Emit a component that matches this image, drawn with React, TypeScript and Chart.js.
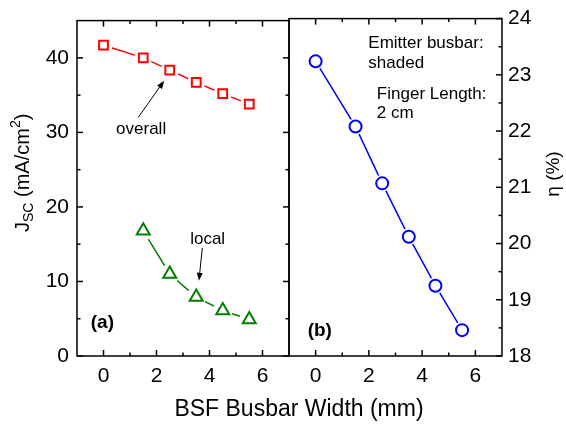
import React, { useEffect, useRef } from 'react';
import { Chart, registerables } from 'chart.js';
Chart.register(...registerables);

const FONT = '"Liberation Sans", Arial, Helvetica, sans-serif';

// ---- data ----
const widthsOverall = [0, 1.5, 2.5, 3.5, 4.5, 5.5];
const jscOverall = [41.7, 40.0, 38.35, 36.7, 35.2, 33.8];
const widthsLocal = [1.5, 2.5, 3.5, 4.5, 5.5];
const jscLocal = [16.8, 11.0, 7.9, 6.1, 4.9];
const widthsEta = [0, 1.5, 2.5, 3.5, 4.5, 5.5];
const etaValues = [23.24, 22.08, 21.07, 20.12, 19.25, 18.46];

// ---- ticks ----
const xTickLabels = [0, 2, 4, 6];
const xMinorTicks = [1, 3, 5];
const jscTickLabels = [0, 10, 20, 30, 40];
const jscMinorTicks = [5, 15, 25, 35];
const etaTickLabels = [18, 19, 20, 21, 22, 23, 24];
const etaMinorTicks = [18.5, 19.5, 20.5, 21.5, 22.5, 23.5];

// ---- annotations (data coordinates) ----
const notesA = [
  { text: 'overall', x: 1.42, y: 29.8 },
  { text: 'local', x: 3.93, y: 15.0 },
];
const arrowsA = [
  { from: [1.31, 32.0], to: [2.29, 36.94] },
  { from: [3.73, 14.5], to: [3.6, 10.09] },
];
const notesB = [
  { text: 'Emitter busbar:', x: 1.98, y: 23.47 },
  { text: 'shaded', x: 1.98, y: 23.12 },
  { text: 'Finger Length:', x: 2.3, y: 22.57 },
  { text: '2 cm', x: 2.3, y: 22.235 },
];

const pts = (xs: number[], ys: number[]) => xs.map((x, i) => ({ x, y: ys[i] }));

function series(data: any[], color: string, style: string, radius: number, halo: number) {
  return [
    { data, showLine: true, borderColor: color, borderWidth: 1.5, pointRadius: 0, order: 3 },
    {
      data, showLine: false, pointRadius: halo, pointStyle: 'circle',
      pointBackgroundColor: '#ffffff', pointBorderWidth: 0, pointBorderColor: '#ffffff', order: 2,
    },
    {
      data, showLine: false, pointRadius: radius, pointStyle: style,
      pointBackgroundColor: '#ffffff', pointBorderColor: color, pointBorderWidth: 2, order: 1,
    },
  ];
}

const MAJ = 6;
const MIN = 3.5;

function drawTicks(chart: any, sides: { left: boolean; right: boolean }, yMajor: number[], yMinor: number[]) {
  const { ctx, chartArea, scales } = chart;
  const { left, right, top, bottom } = chartArea;
  ctx.save();
  ctx.strokeStyle = '#000';
  ctx.lineWidth = 1.5;
  ctx.strokeRect(left, top, right - left, bottom - top);
  const seg = (x1: number, y1: number, x2: number, y2: number) => {
    ctx.beginPath(); ctx.moveTo(x1, y1); ctx.lineTo(x2, y2); ctx.stroke();
  };
  const xs = scales.x;
  const ys = scales.y;
  const doX = (v: number, len: number) => {
    const p = xs.getPixelForValue(v);
    seg(p, bottom, p, bottom - len);
    seg(p, top, p, top + len);
  };
  xTickLabels.forEach((v) => doX(v, MAJ));
  xMinorTicks.forEach((v) => doX(v, MIN));
  const doY = (v: number, len: number) => {
    const p = ys.getPixelForValue(v);
    if (sides.left) seg(left, p, left + len, p);
    if (sides.right) seg(right, p, right - len, p);
  };
  yMajor.forEach((v) => doY(v, MAJ));
  yMinor.forEach((v) => doY(v, MIN));
  ctx.restore();
}

function arrow(ctx: any, x1: number, y1: number, x2: number, y2: number) {
  const ang = Math.atan2(y2 - y1, x2 - x1);
  const L = 8, W = 3;
  ctx.beginPath();
  ctx.moveTo(x1, y1);
  ctx.lineTo(x2 - Math.cos(ang) * L * 0.8, y2 - Math.sin(ang) * L * 0.8);
  ctx.stroke();
  ctx.beginPath();
  ctx.moveTo(x2, y2);
  ctx.lineTo(x2 - Math.cos(ang) * L - Math.sin(ang) * W, y2 - Math.sin(ang) * L + Math.cos(ang) * W);
  ctx.lineTo(x2 - Math.cos(ang) * L + Math.sin(ang) * W, y2 - Math.sin(ang) * L - Math.cos(ang) * W);
  ctx.closePath();
  ctx.fill();
}

const hideGrid = { display: false, drawTicks: false };

function xScale() {
  return {
    type: 'linear', position: 'bottom', min: -1, max: 7,
    afterBuildTicks: (s: any) => { s.ticks = xTickLabels.map((v) => ({ value: v })); },
    afterFit: (s: any) => { s.height = 70; },
    grid: hideGrid, border: { display: false },
    ticks: { font: { family: FONT, size: 21 }, color: '#000', padding: 8, maxRotation: 0, autoSkip: false },
  };
}

export default function App() {
  const refA = useRef<HTMLCanvasElement>(null);
  const refB = useRef<HTMLCanvasElement>(null);

  useEffect(() => {
    const pluginA = {
      id: 'panelA',
      afterDatasetsDraw(chart: any) {
        const { ctx, scales } = chart;
        ctx.save();
        ctx.fillStyle = '#000';
        ctx.strokeStyle = '#000';
        ctx.lineWidth = 1;
        ctx.font = `17px ${FONT}`;
        ctx.textAlign = 'center';
        ctx.textBaseline = 'alphabetic';
        notesA.forEach((n) => ctx.fillText(n.text, scales.x.getPixelForValue(n.x), scales.y.getPixelForValue(n.y)));
        arrowsA.forEach((a) => arrow(ctx,
          scales.x.getPixelForValue(a.from[0]), scales.y.getPixelForValue(a.from[1]),
          scales.x.getPixelForValue(a.to[0]), scales.y.getPixelForValue(a.to[1])));
        ctx.font = `bold 19px ${FONT}`;
        ctx.textAlign = 'left';
        ctx.fillText('(a)', scales.x.getPixelForValue(-0.48), scales.y.getPixelForValue(3.76));
        ctx.restore();
      },
      afterDraw(chart: any) {
        drawTicks(chart, { left: true, right: true }, jscTickLabels, jscMinorTicks);
        const { ctx } = chart;
        ctx.save();
        ctx.fillStyle = '#000';
        // shared x-axis title
        ctx.font = `23px ${FONT}`;
        ctx.textAlign = 'center';
        ctx.textBaseline = 'alphabetic';
        ctx.fillText('BSF Busbar Width (mm)', 299, 416);
        // left y title with sub/superscripts
        ctx.translate(29, 232);
        ctx.rotate(-Math.PI / 2);
        ctx.textAlign = 'left';
        let x = 0;
        const seg = (t: string, size: number, dy: number) => {
          ctx.font = `${size}px ${FONT}`;
          ctx.fillText(t, x, dy);
          x += ctx.measureText(t).width;
        };
        seg('J', 20, 0);
        seg('SC', 14, 4);
        seg(' (mA/cm', 20, 0);
        seg('2', 14, -9);
        seg(')', 20, 0);
        ctx.restore();
      },
    };

    const pluginB = {
      id: 'panelB',
      afterDatasetsDraw(chart: any) {
        const { ctx, scales } = chart;
        ctx.save();
        ctx.fillStyle = '#000';
        ctx.font = `17px ${FONT}`;
        ctx.textAlign = 'left';
        ctx.textBaseline = 'alphabetic';
        notesB.forEach((n) => ctx.fillText(n.text, scales.x.getPixelForValue(n.x), scales.y.getPixelForValue(n.y)));
        ctx.font = `bold 19px ${FONT}`;
        ctx.fillText('(b)', scales.x.getPixelForValue(-0.3), scales.y.getPixelForValue(18.354));
        ctx.restore();
      },
      afterDraw(chart: any) {
        drawTicks(chart, { left: false, right: true }, etaTickLabels, etaMinorTicks);
        const { ctx } = chart;
        ctx.save();
        ctx.fillStyle = '#000';
        ctx.translate(559, 174);
        ctx.rotate(-Math.PI / 2);
        ctx.font = `19px ${FONT}`;
        ctx.textAlign = 'center';
        ctx.textBaseline = 'alphabetic';
        ctx.fillText('η (%)', 0, 0);
        ctx.restore();
      },
    };

    const common = {
      responsive: false,
      animation: false,
      devicePixelRatio: 1,
      events: [],
      plugins: { legend: { display: false }, tooltip: { enabled: false } },
    };

    const a = new Chart(refA.current as HTMLCanvasElement, {
      type: 'scatter',
      data: {
        datasets: [
          ...series(pts(widthsOverall, jscOverall), '#ff0000', 'rect', 6.2, 9),
          ...series(pts(widthsLocal, jscLocal), '#008000', 'triangle', 7.5, 10),
        ],
      },
      options: {
        ...common,
        layout: { padding: { top: 17, right: 277, left: 0, bottom: 0 } },
        scales: {
          x: xScale(),
          y: {
            type: 'linear', position: 'left', min: 0, max: 45,
            afterBuildTicks: (s: any) => { s.ticks = jscTickLabels.map((v) => ({ value: v })); },
            afterFit: (s: any) => { s.width = 77; },
            grid: hideGrid, border: { display: false },
            ticks: { font: { family: FONT, size: 21 }, color: '#000', padding: 8 },
          },
        },
      } as any,
      plugins: [pluginA],
    } as any);

    const b = new Chart(refB.current as HTMLCanvasElement, {
      type: 'scatter',
      data: {
        datasets: [...series(pts(widthsEta, etaValues), '#0000ff', 'circle', 6, 8.5)],
      },
      options: {
        ...common,
        layout: { padding: { top: 17, right: 0, left: 289, bottom: 0 } },
        scales: {
          x: xScale(),
          y: {
            type: 'linear', position: 'right', min: 18, max: 24,
            afterBuildTicks: (s: any) => { s.ticks = etaTickLabels.map((v) => ({ value: v })); },
            afterFit: (s: any) => { s.width = 64; },
            grid: hideGrid, border: { display: false },
            ticks: { font: { family: FONT, size: 21 }, color: '#000', padding: 6 },
          },
        },
      } as any,
      plugins: [pluginB],
    } as any);

    return () => { a.destroy(); b.destroy(); };
  }, []);

  const cs: React.CSSProperties = { position: 'absolute', left: 0, top: 0, width: 566, height: 426 };
  return (
    <div style={{ position: 'fixed', left: 0, top: 0, width: 566, height: 426, background: '#ffffff' }}>
      <canvas ref={refA} width={566} height={426} style={cs} />
      <canvas ref={refB} width={566} height={426} style={cs} />
    </div>
  );
}
